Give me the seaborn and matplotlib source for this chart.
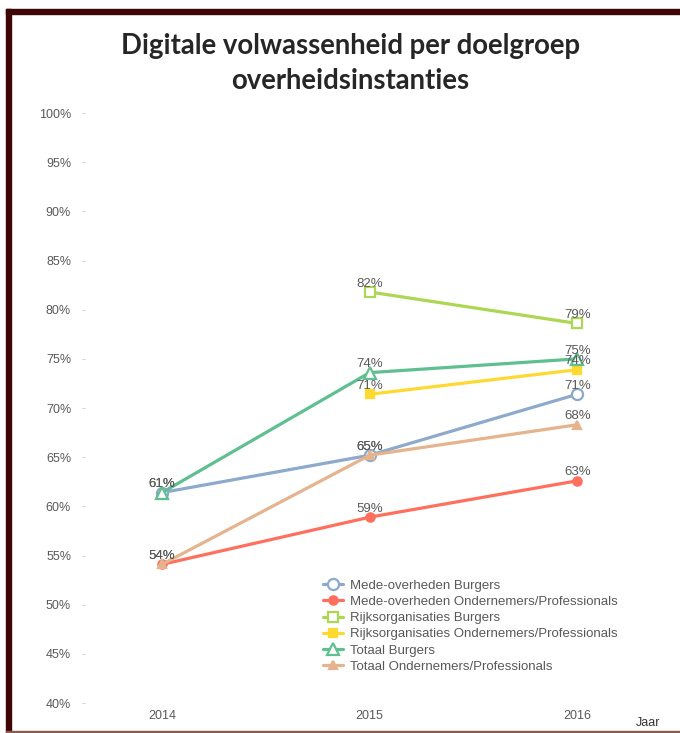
import seaborn as sns
import matplotlib.pyplot as plt
import pandas as pd
from matplotlib.patches import Rectangle

# Gegevens
jaren = [2014, 2015, 2016]
mede_burgers = [0.614, 0.652, 0.714]
mede_ondernemers = [0.541, 0.589, 0.626]
rijks_burgers = [None, 0.818, 0.786]
rijks_ondernemers = [None, 0.714, 0.739]
totaal_burgers = [0.614, 0.736, 0.750]
totaal_ondernemers = [0.541, 0.652, 0.683]

reeksen = [
    ("Mede-overheden Burgers", mede_burgers, "#8DA9CB", "o", "open", 8),
    ("Mede-overheden Ondernemers/Professionals", mede_ondernemers, "#FF6F5E", "o", "vol", 6),
    ("Rijksorganisaties Burgers", rijks_burgers, "#ADD653", "s", "open", 7),
    ("Rijksorganisaties Ondernemers/Professionals", rijks_ondernemers, "#FFD92F", "s", "vol", 6),
    ("Totaal Burgers", totaal_burgers, "#5FBF8F", "^", "open", 8),
    ("Totaal Ondernemers/Professionals", totaal_ondernemers, "#E5B38D", "^", "vol", 6),
]

rijen = []
for naam, waarden, *_ in reeksen:
    for jaar, w in zip(jaren, waarden):
        rijen.append({"jaar": jaar, "groep": naam, "waarde": w})
df = pd.DataFrame(rijen).dropna()

sns.set_style("white")
plt.rcParams["font.family"] = ["Liberation Sans", "DejaVu Sans"]

fig = plt.figure(figsize=(6.8, 7.33), dpi=100)
ax = fig.add_axes([0.125, 0.0409, 0.846, 0.8049])

grijs = "#595959"
for naam, waarden, kleur, marker, vulling, grootte in reeksen:
    sub = df[df["groep"] == naam]
    sns.lineplot(data=sub, x="jaar", y="waarde", ax=ax, color=kleur, linewidth=2.3,
                 marker=marker, markersize=grootte,
                 markerfacecolor="white" if vulling == "open" else kleur,
                 markeredgecolor=kleur, markeredgewidth=1.6, label=naam)
    for jaar, w in zip(sub["jaar"], sub["waarde"]):
        ax.annotate(f"{w * 100:.0f}%", (jaar, w), xytext=(0, 6), textcoords="offset points",
                    ha="center", va="center", fontsize=9.5, color=grijs)

ax.set_xlim(2013.629, 2016.4)
ax.set_ylim(0.40, 1.00)
ax.set_xticks(jaren)
ax.set_xticklabels([str(j) for j in jaren])
yt = [i / 100 for i in range(40, 101, 5)]
ax.set_yticks(yt)
ax.set_yticklabels([f"{int(round(v * 100))}%" for v in yt])
ax.tick_params(axis="y", length=2, width=0.6, color="#cccccc", labelsize=9, labelcolor=grijs, pad=8, left=True)
ax.tick_params(axis="x", length=0, labelsize=9, labelcolor=grijs, pad=5)
ax.set_xlabel("")
ax.set_ylabel("")
sns.despine(ax=ax, left=True, bottom=True)

leg = ax.legend(loc="upper left", bbox_to_anchor=(0.405, 0.218), frameon=False, fontsize=9.5,
                handlelength=1.5, handletextpad=0.5, labelspacing=0.3, borderaxespad=0)
for t in leg.get_texts():
    t.set_color(grijs)

fig.text(0.515, 0.937, "Digitale volwassenheid per doelgroep", ha="center", va="center",
         fontsize=19.8, fontweight="bold", family=["Lato", "DejaVu Sans"])
fig.text(0.515, 0.889, "overheidsinstanties", ha="center", va="center",
         fontsize=19.8, fontweight="bold", family=["Lato", "DejaVu Sans"])
fig.text(0.935, 0.006, "Jaar", ha="left", va="bottom", fontsize=9, color="#333333")

# kader van de oorspronkelijke afbeelding
fig.patches.append(Rectangle((0.009, 0.0), 0.007, 0.988, transform=fig.transFigure, color="#3F0606"))
fig.patches.append(Rectangle((0.009, 0.981), 0.991, 0.007, transform=fig.transFigure, color="#3F0606"))
fig.patches.append(Rectangle((0.009, 0.0), 0.991, 0.003, transform=fig.transFigure, color="#8C5A50"))

fig.savefig("out.png", dpi=100)
